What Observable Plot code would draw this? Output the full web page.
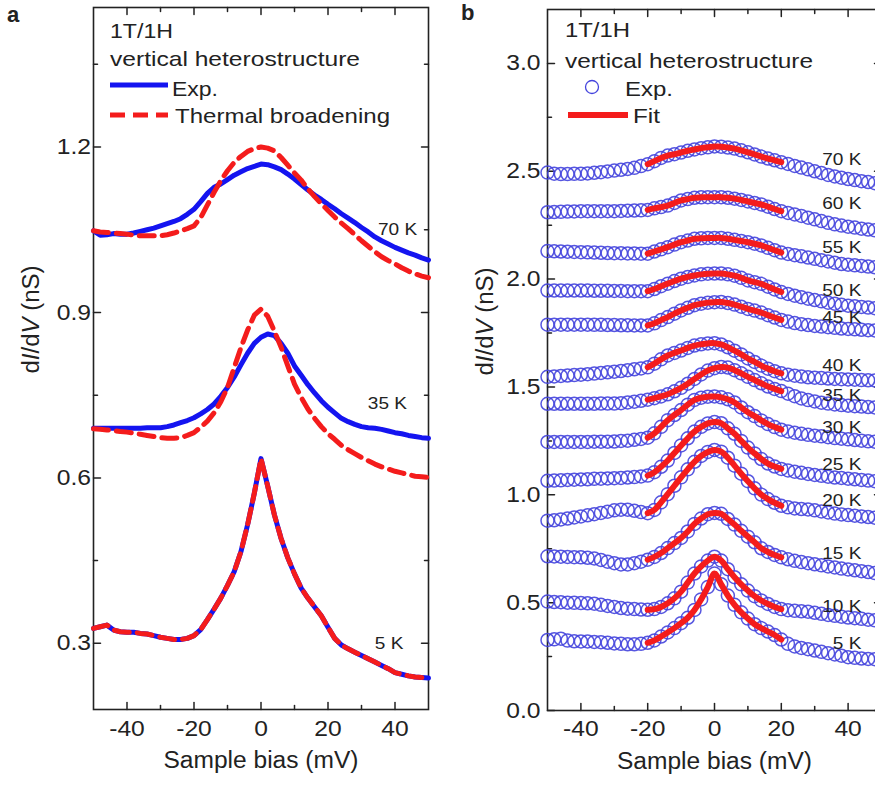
<!DOCTYPE html>
<html><head><meta charset="utf-8">
<script src="https://cdn.jsdelivr.net/npm/d3@7"></script>
<script src="https://cdn.jsdelivr.net/npm/@observablehq/plot@0.6"></script>
<style>
html,body{margin:0;padding:0;background:#fff;overflow:hidden;width:875px;height:785px;}
#wrap{position:relative;width:875px;height:785px;overflow:hidden;font-family:"Liberation Sans",Arial,sans-serif;}
#pa{position:absolute;left:0;top:0;width:440px;height:785px;}
#pb{position:absolute;left:440px;top:0;width:460px;height:785px;}
#pa svg,#pb svg{max-width:none !important;height:785px !important;display:block;}
#ov{position:absolute;left:0;top:0;pointer-events:none;}
</style></head><body>
<div id="wrap"><div id="pa"></div><div id="pb"></div>
<svg id="ov" width="875" height="785">
<g font-family="Liberation Sans, Arial, sans-serif" fill="#222">
<text x="7" y="22" font-size="22" font-weight="bold">a</text>
<text x="461" y="20" font-size="22" font-weight="bold">b</text>
<text x="110" y="38" font-size="21" textLength="63" lengthAdjust="spacingAndGlyphs">1T/1H</text>
<text x="110" y="66" font-size="21" textLength="250" lengthAdjust="spacingAndGlyphs">vertical heterostructure</text>
<line x1="110" x2="168" y1="85" y2="85" stroke="#1414f0" stroke-width="5"/>
<text x="172" y="96" font-size="21" textLength="46" lengthAdjust="spacingAndGlyphs">Exp.</text>
<line x1="110" x2="168" y1="115" y2="115" stroke="#f41c1c" stroke-width="5" stroke-dasharray="15,8"/>
<text x="175" y="123" font-size="21" textLength="215" lengthAdjust="spacingAndGlyphs">Thermal broadening</text>
<text x="565" y="37" font-size="21" textLength="65" lengthAdjust="spacingAndGlyphs">1T/1H</text>
<text x="565" y="68" font-size="21" textLength="248" lengthAdjust="spacingAndGlyphs">vertical heterostructure</text>
<circle cx="592" cy="87" r="6.5" fill="none" stroke="#4444dd" stroke-width="1.3"/>
<text x="625" y="96" font-size="21" textLength="48" lengthAdjust="spacingAndGlyphs">Exp.</text>
<line x1="568" x2="628" y1="115" y2="115" stroke="#f41c1c" stroke-width="6"/>
<text x="633" y="123" font-size="21" textLength="27" lengthAdjust="spacingAndGlyphs">Fit</text>
</g></svg>
</div>
<script>
// ---- data ----
const bias = [-50,-48,-46,-44,-42,-40,-38,-36,-34,-32,-30,-28,-26,-24,-22,-20,-18,-16,-14,-12,-10,-8,-6,-4,-2,0,2,4,6,8,10,12,14,16,18,20,22,24,26,28,30,32,34,36,38,40,42,44,46,48,50];

// panel a
const a5K = [0.327,0.330,0.333,0.324,0.321,0.320,0.320,0.318,0.317,0.314,0.311,0.309,0.307,0.307,0.309,0.314,0.325,0.343,0.362,0.382,0.405,0.430,0.466,0.515,0.572,0.635,0.585,0.533,0.490,0.455,0.426,0.400,0.382,0.366,0.350,0.329,0.309,0.297,0.290,0.284,0.278,0.272,0.266,0.260,0.254,0.247,0.244,0.241,0.239,0.238,0.237];
const a5Kth = [0.327,0.330,0.333,0.324,0.321,0.320,0.320,0.318,0.317,0.314,0.311,0.309,0.307,0.307,0.309,0.314,0.325,0.343,0.362,0.382,0.405,0.430,0.466,0.515,0.572,0.635,0.585,0.533,0.490,0.455,0.426,0.400,0.382,0.366,0.350,0.329,0.309,0.297,0.290,0.284,0.278,0.272,0.266,0.260,0.254,0.247,0.244,0.241,0.239,0.238,0.237];
const a35K = [0.690,0.690,0.690,0.690,0.690,0.690,0.690,0.690,0.691,0.691,0.691,0.693,0.696,0.700,0.704,0.709,0.716,0.724,0.734,0.748,0.764,0.783,0.805,0.826,0.844,0.855,0.861,0.858,0.844,0.826,0.803,0.786,0.769,0.754,0.740,0.728,0.718,0.708,0.702,0.697,0.693,0.691,0.690,0.688,0.685,0.682,0.680,0.677,0.675,0.673,0.672];
const a35Kth = [0.689,0.688,0.687,0.686,0.684,0.683,0.681,0.679,0.677,0.675,0.673,0.672,0.672,0.673,0.677,0.682,0.692,0.703,0.718,0.738,0.764,0.800,0.836,0.868,0.895,0.906,0.893,0.866,0.837,0.803,0.770,0.746,0.725,0.708,0.693,0.680,0.670,0.659,0.651,0.644,0.637,0.631,0.625,0.620,0.616,0.612,0.609,0.606,0.603,0.602,0.601];
const a70K = [1.048,1.040,1.041,1.043,1.042,1.042,1.044,1.047,1.050,1.053,1.057,1.061,1.065,1.070,1.078,1.087,1.101,1.116,1.127,1.133,1.141,1.149,1.155,1.161,1.165,1.169,1.168,1.164,1.159,1.151,1.142,1.132,1.122,1.113,1.105,1.096,1.088,1.079,1.071,1.063,1.054,1.046,1.037,1.030,1.024,1.018,1.013,1.008,1.004,0.999,0.995];
const a70Kth = [1.048,1.046,1.045,1.044,1.043,1.042,1.040,1.039,1.039,1.039,1.039,1.041,1.044,1.048,1.052,1.057,1.072,1.095,1.118,1.139,1.157,1.172,1.183,1.192,1.197,1.200,1.198,1.193,1.181,1.167,1.153,1.140,1.124,1.110,1.097,1.085,1.073,1.062,1.052,1.041,1.030,1.020,1.010,1.001,0.994,0.988,0.981,0.975,0.970,0.966,0.963];
const tempsA = ["5 K","35 K","70 K"];
const expA = [a5K, a35K, a70K];
const thA = [a5Kth, a35Kth, a70Kth];
const labAx = [42.5, 43.6, 46.6];
const labAy = [0.300, 0.734, 1.050];

// panel b
const b5K = [0.327,0.330,0.333,0.324,0.321,0.320,0.320,0.318,0.317,0.314,0.311,0.309,0.307,0.307,0.309,0.314,0.325,0.343,0.362,0.382,0.405,0.430,0.466,0.515,0.572,0.635,0.585,0.533,0.490,0.455,0.426,0.400,0.382,0.366,0.350,0.329,0.309,0.297,0.290,0.284,0.278,0.272,0.266,0.260,0.254,0.247,0.244,0.241,0.239,0.238,0.237];
const b10K = [0.505,0.503,0.502,0.500,0.499,0.498,0.497,0.495,0.490,0.485,0.480,0.475,0.472,0.470,0.468,0.467,0.470,0.480,0.497,0.520,0.551,0.593,0.635,0.668,0.695,0.713,0.695,0.655,0.618,0.585,0.556,0.530,0.510,0.494,0.480,0.470,0.465,0.462,0.460,0.458,0.453,0.448,0.443,0.439,0.435,0.431,0.428,0.425,0.421,0.418,0.416];
const b15K = [0.715,0.714,0.713,0.712,0.711,0.710,0.708,0.705,0.698,0.690,0.683,0.677,0.677,0.683,0.690,0.699,0.712,0.730,0.753,0.776,0.800,0.830,0.865,0.890,0.910,0.916,0.912,0.888,0.862,0.833,0.806,0.780,0.752,0.735,0.721,0.710,0.701,0.694,0.688,0.683,0.678,0.673,0.668,0.663,0.658,0.654,0.650,0.646,0.642,0.637,0.634];
const b20K = [0.880,0.882,0.886,0.890,0.895,0.900,0.905,0.910,0.916,0.922,0.928,0.931,0.931,0.926,0.920,0.915,0.930,0.965,1.003,1.042,1.081,1.118,1.153,1.180,1.199,1.208,1.200,1.172,1.135,1.098,1.063,1.030,1.001,0.980,0.963,0.949,0.942,0.937,0.934,0.932,0.928,0.923,0.918,0.913,0.909,0.906,0.903,0.900,0.897,0.894,0.892];
const b25K = [1.065,1.066,1.067,1.069,1.070,1.071,1.072,1.074,1.075,1.076,1.077,1.078,1.080,1.082,1.085,1.089,1.105,1.130,1.159,1.194,1.229,1.262,1.293,1.315,1.331,1.337,1.332,1.308,1.283,1.250,1.219,1.192,1.166,1.145,1.131,1.120,1.113,1.107,1.102,1.097,1.092,1.088,1.084,1.080,1.078,1.075,1.072,1.069,1.066,1.063,1.061];
const b30K = [1.245,1.245,1.245,1.245,1.245,1.245,1.245,1.246,1.246,1.246,1.247,1.250,1.251,1.255,1.259,1.265,1.285,1.315,1.346,1.370,1.393,1.418,1.440,1.450,1.455,1.456,1.452,1.443,1.428,1.405,1.383,1.365,1.345,1.328,1.314,1.302,1.294,1.288,1.283,1.278,1.274,1.271,1.267,1.263,1.260,1.257,1.254,1.251,1.248,1.246,1.244];
const b35K = [1.422,1.422,1.422,1.422,1.422,1.422,1.422,1.422,1.423,1.423,1.423,1.425,1.428,1.432,1.436,1.441,1.448,1.456,1.466,1.480,1.496,1.515,1.537,1.558,1.576,1.587,1.593,1.590,1.578,1.563,1.547,1.532,1.517,1.502,1.491,1.481,1.469,1.457,1.447,1.439,1.433,1.427,1.423,1.419,1.416,1.413,1.411,1.409,1.407,1.405,1.404];
const b40K = [1.547,1.549,1.551,1.553,1.555,1.557,1.559,1.562,1.565,1.568,1.571,1.574,1.578,1.582,1.586,1.591,1.608,1.628,1.646,1.658,1.669,1.681,1.692,1.698,1.702,1.703,1.697,1.684,1.668,1.651,1.632,1.616,1.599,1.585,1.573,1.563,1.557,1.552,1.548,1.545,1.543,1.541,1.539,1.537,1.536,1.535,1.534,1.532,1.531,1.530,1.529];
const b45K = [1.789,1.789,1.789,1.789,1.789,1.789,1.789,1.788,1.788,1.787,1.787,1.786,1.786,1.785,1.785,1.785,1.795,1.810,1.824,1.840,1.855,1.867,1.879,1.886,1.891,1.893,1.894,1.889,1.882,1.872,1.862,1.854,1.845,1.833,1.822,1.811,1.803,1.796,1.791,1.787,1.783,1.780,1.777,1.774,1.771,1.769,1.767,1.765,1.763,1.762,1.761];
const b50K = [1.947,1.947,1.947,1.947,1.947,1.947,1.947,1.946,1.946,1.946,1.945,1.945,1.944,1.944,1.944,1.944,1.954,1.967,1.979,1.991,2.002,2.010,2.017,2.022,2.025,2.026,2.026,2.022,2.016,2.006,1.994,1.986,1.978,1.965,1.952,1.940,1.931,1.923,1.916,1.909,1.903,1.897,1.891,1.886,1.881,1.877,1.874,1.871,1.868,1.865,1.862];
const b55K = [2.130,2.129,2.128,2.127,2.126,2.125,2.124,2.123,2.122,2.121,2.120,2.120,2.119,2.119,2.118,2.118,2.128,2.138,2.148,2.160,2.171,2.179,2.187,2.189,2.191,2.191,2.191,2.187,2.182,2.177,2.171,2.164,2.156,2.145,2.134,2.123,2.117,2.111,2.106,2.100,2.094,2.088,2.082,2.076,2.070,2.067,2.064,2.061,2.058,2.055,2.053];
const b60K = [2.310,2.311,2.312,2.313,2.314,2.315,2.315,2.315,2.315,2.315,2.315,2.316,2.317,2.318,2.319,2.321,2.328,2.334,2.341,2.353,2.365,2.371,2.377,2.379,2.380,2.380,2.380,2.377,2.373,2.367,2.360,2.353,2.346,2.336,2.325,2.315,2.307,2.300,2.293,2.285,2.277,2.269,2.261,2.254,2.248,2.243,2.239,2.234,2.230,2.226,2.224];
const b70K = [2.494,2.489,2.487,2.487,2.488,2.488,2.490,2.493,2.496,2.499,2.503,2.507,2.511,2.516,2.524,2.533,2.547,2.562,2.573,2.579,2.587,2.595,2.601,2.607,2.611,2.615,2.614,2.610,2.605,2.597,2.588,2.578,2.568,2.559,2.551,2.542,2.534,2.525,2.517,2.509,2.500,2.492,2.483,2.476,2.470,2.464,2.459,2.454,2.450,2.445,2.441];
const tempsB = ["5 K","10 K","15 K","20 K","25 K","30 K","35 K","40 K","45 K","50 K","55 K","60 K","70 K"];
const expB = [b5K,b10K,b15K,b20K,b25K,b30K,b35K,b40K,b45K,b50K,b55K,b60K,b70K];
const labBy = [0.312,0.484,0.726,0.972,1.140,1.311,1.460,1.599,1.822,1.947,2.146,2.351,2.554];
const labBx = 44;
const fitRange = [-20, 20];

// ticks
const xMajor = [-40,-20,0,20,40];
const xMinor = [-30,-10,10,30];
const yMajorA = [0.3,0.6,0.9,1.2];
const yMinorA = [0.45,0.75,1.05,1.35];
const yMajorB = [0,0.5,1,1.5,2,2.5,3];
const yMinorB = [0.25,0.75,1.25,1.75,2.25,2.75];

// ---- tidy ----
function tidy(temps, series) {
  const rows = [];
  temps.forEach((T, k) => series[k].forEach((v, i) => rows.push({T, bias: bias[i], G: v})));
  return rows;
}
const rowsAexp = tidy(tempsA, expA);
const rowsAth = tidy(tempsA, thA);
const rowsB = tidy(tempsB, expB);
const rowsFit = rowsB.filter(d => d.bias >= fitRange[0] && d.bias <= fitRange[1]);
const labA = tempsA.map((t, k) => ({t, x: labAx[k], y: labAy[k]}));
const labB = tempsB.map((t, k) => ({t, x: labBx, y: labBy[k]}));

const FONT = '"Liberation Sans", Arial, sans-serif';
const INK = "#222";
const BLUE = "#1414f0", RED = "#f41c1c", CIRC = "#4444dd";
const fmt1 = d3.format(".1f");
const tickShape = {draw(ctx, l) { ctx.moveTo(0, 0); ctx.lineTo(0, -l); }};

function ticks(vals, dim, anchor, len) {
  const rot = {left: 90, right: -90, bottom: 0, top: 180}[anchor];
  const ch = dim === "y" ? {y: d => d} : {x: d => d};
  return Plot.vector(vals, {...ch, frameAnchor: anchor, length: len, rotate: rot, anchor: "start",
    shape: tickShape, stroke: INK, strokeWidth: 1.5});
}

function frameAxes(yMaj, yMin, padY, padX) {
  return [
    Plot.frame({stroke: INK, strokeWidth: 1.6}),
    Plot.axisY(yMaj, {anchor: "left", tickSize: 0, tickPadding: padY, tickFormat: fmt1, fontSize: 22, label: null}),
    Plot.axisX(xMajor, {anchor: "bottom", tickSize: 0, tickPadding: padX, tickFormat: d => String(d), fontSize: 22, label: null}),
    ticks(yMaj, "y", "left", 7), ticks(yMin, "y", "left", 4),
    ticks(yMaj, "y", "right", 7), ticks(yMin, "y", "right", 4),
    ticks(xMajor, "x", "bottom", 7), ticks(xMinor, "x", "bottom", 4),
    ticks(xMajor, "x", "top", 7), ticks(xMinor, "x", "top", 4)
  ];
}

const plotA = Plot.plot({
  width: 440, height: 785,
  marginLeft: 93, marginRight: 12, marginTop: 7, marginBottom: 76,
  x: {domain: [-50, 50]},
  y: {domain: [0.18, 1.453]},
  style: {fontFamily: FONT, fontSize: "22px", color: INK, background: "transparent"},
  marks: [
    ...frameAxes(yMajorA, yMinorA, 2.5, 11),
    Plot.line(rowsAexp, {x: "bias", y: "G", z: "T", stroke: BLUE, strokeWidth: 5}),
    Plot.line(rowsAth, {x: "bias", y: "G", z: "T", stroke: RED, strokeWidth: 5, strokeDasharray: "15,8"}),
    Plot.text(labA, {x: "x", y: "y", text: "t", textAnchor: "end", fontSize: 17, fill: INK}),
    Plot.text(["Sample bias (mV)"], {frameAnchor: "bottom", dy: 58.6, text: d => d, fontSize: 23, fill: INK}),
    Plot.text(["dI/dV (nS)"], {frameAnchor: "left", rotate: -90, dx: -62, dy: 15, text: d => d, fontSize: 23, fill: INK})
  ]
});

const plotB = Plot.plot({
  width: 460, height: 785,
  marginLeft: 107, marginRight: 19, marginTop: 9, marginBottom: 75,
  x: {domain: [-50, 50]},
  y: {domain: [0, 3.25]},
  style: {fontFamily: FONT, fontSize: "22px", color: INK, background: "transparent"},
  marks: [
    ...frameAxes(yMajorB, yMinorB, 7, 10),
    Plot.dot(rowsB, {x: "bias", y: "G", r: 6.5, stroke: CIRC, strokeWidth: 1.5, strokeOpacity: 0.9, fill: "none"}),
    Plot.line(rowsFit, {x: "bias", y: "G", z: "T", stroke: RED, strokeWidth: 6, curve: "catmull-rom"}),
    Plot.text(labB, {x: "x", y: "y", text: "t", textAnchor: "end", fontSize: 17, fill: INK}),
    Plot.text(["Sample bias (mV)"], {frameAnchor: "bottom", dy: 58.6, text: d => d, fontSize: 23, fill: INK}),
    Plot.text(["dI/dV (nS)"], {frameAnchor: "left", rotate: -90, dx: -61.5, dy: 15.5, text: d => d, fontSize: 23, fill: INK})
  ]
});

document.getElementById("pa").appendChild(plotA);
document.getElementById("pb").appendChild(plotB);

for (const svg of [plotA, plotB]) {
  svg.querySelectorAll("text").forEach(t => {
    const s = t.textContent;
    if (s === "Sample bias (mV)") {
      t.setAttribute("textLength", "195");
      t.setAttribute("lengthAdjust", "spacingAndGlyphs");
    } else if (s === "dI/dV (nS)") {
      t.innerHTML = 'd<tspan font-style="italic">I</tspan>/d<tspan font-style="italic">V</tspan> (nS)';
      t.setAttribute("textLength", "108");
      t.setAttribute("lengthAdjust", "spacingAndGlyphs");
    } else if (/^-?\d/.test(s)) {
      const w = t.getComputedTextLength();
      if (w > 0) {
        t.setAttribute("textLength", (w * 1.12).toFixed(1));
        t.setAttribute("lengthAdjust", "spacingAndGlyphs");
      }
    }
  });
}
</script></body></html>
